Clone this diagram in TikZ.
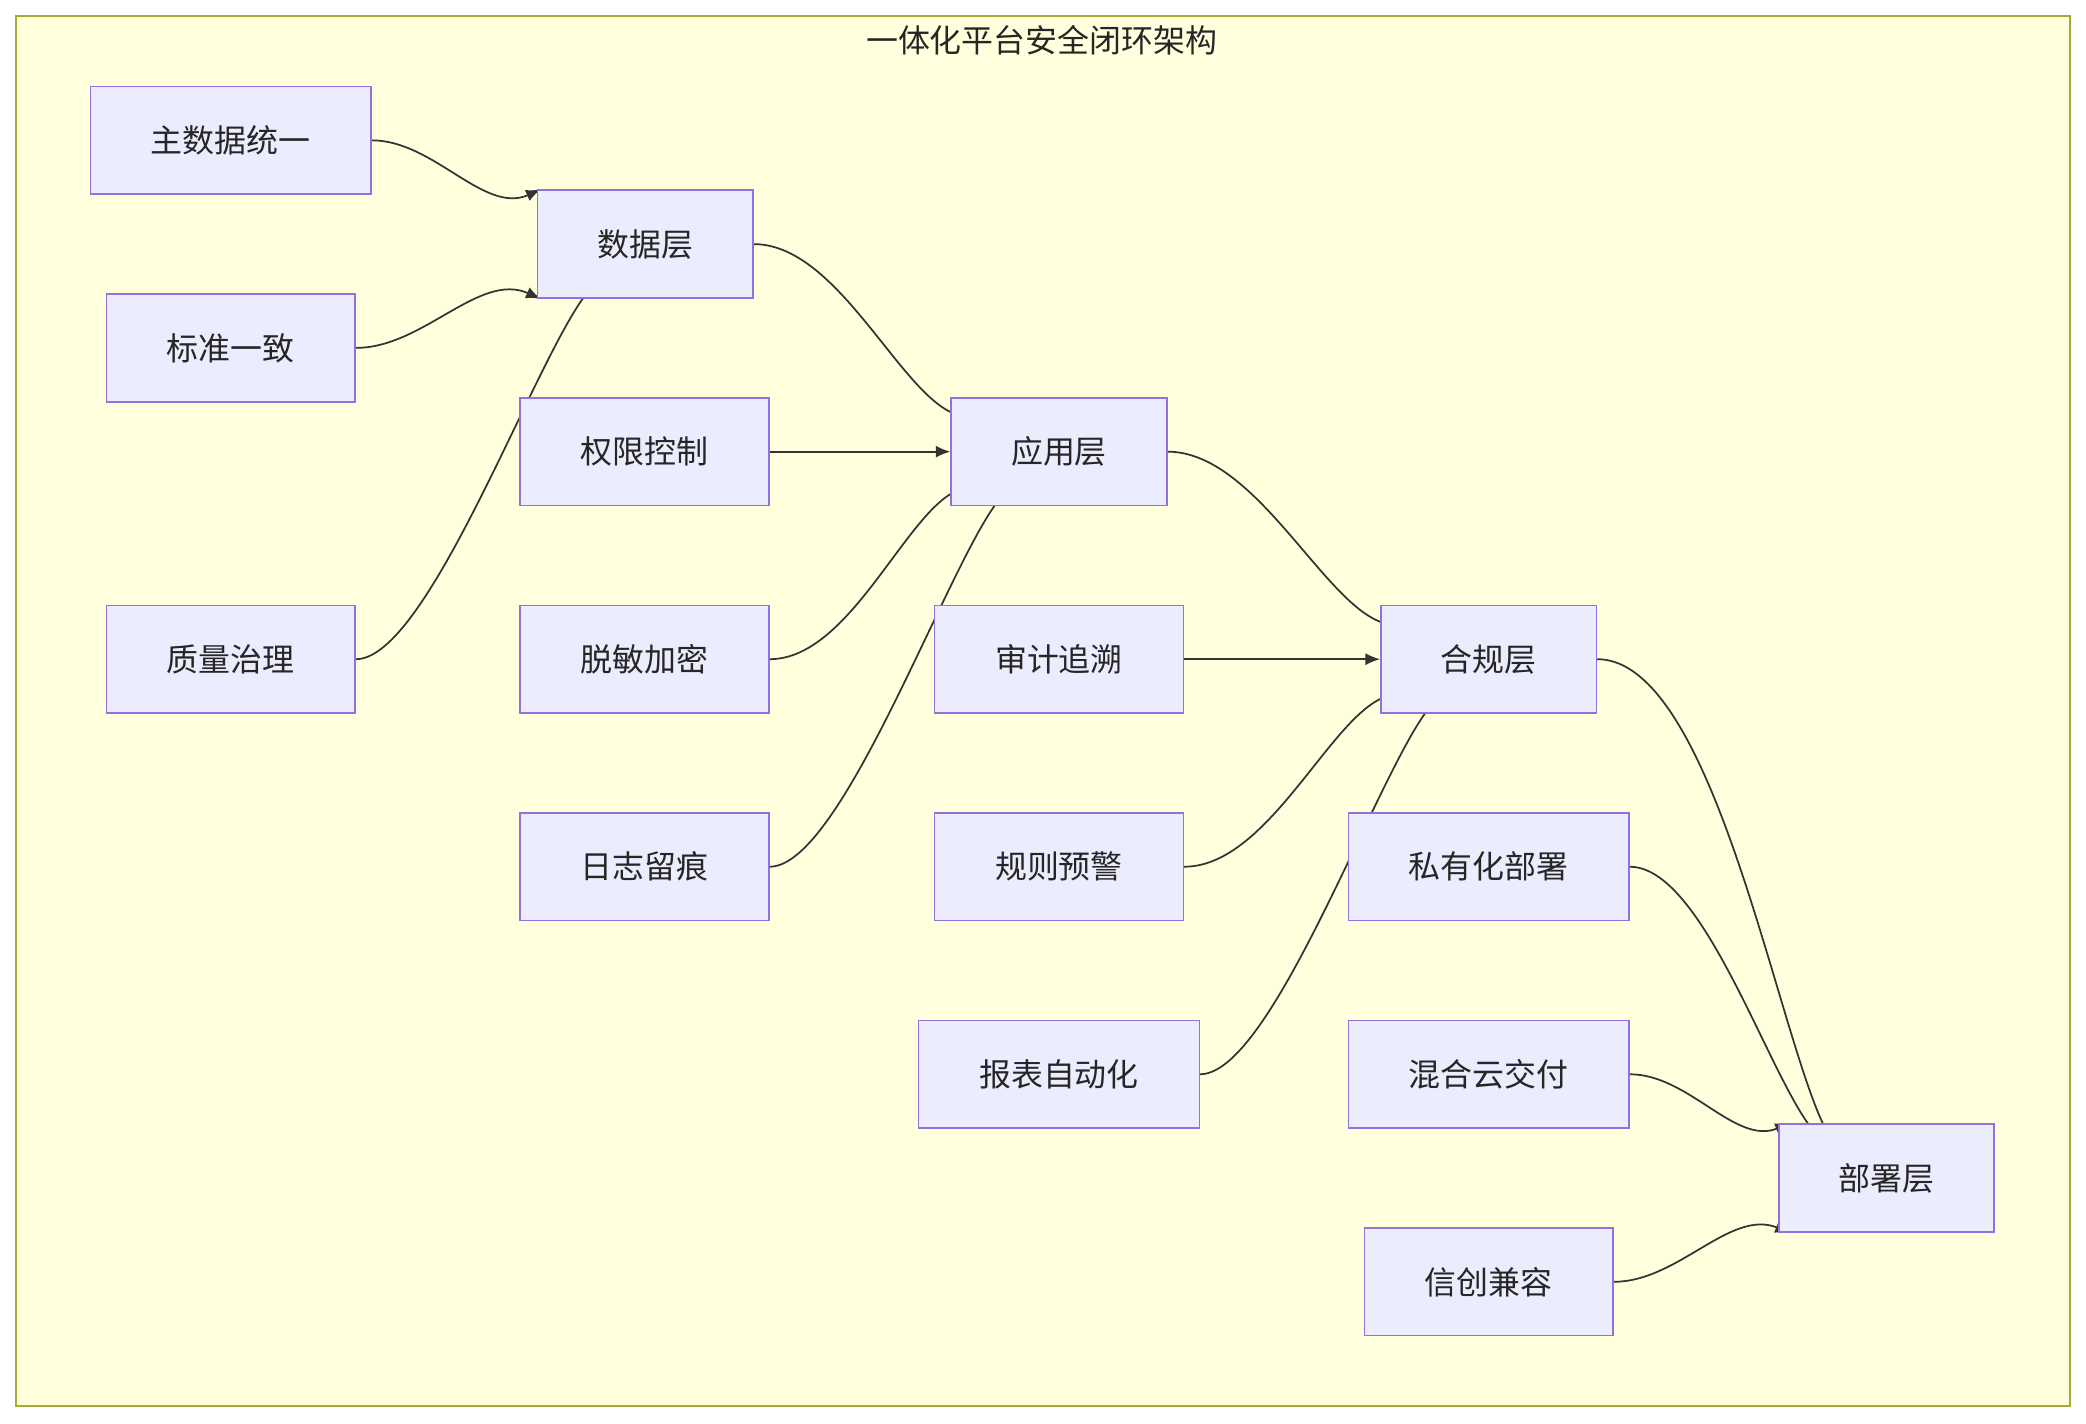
\documentclass[tikz,border=0pt]{standalone}
\usepackage{fontspec}
\newfontfamily\cjk{Noto Sans CJK SC}
\usetikzlibrary{arrows.meta,calc}
\pgfdeclarelayer{frame}
\pgfdeclarelayer{bg}
\pgfsetlayers{frame,bg,main}
\definecolor{nfill}{HTML}{ECECFF}
\definecolor{nstroke}{HTML}{9370DB}
\definecolor{cfill}{HTML}{FFFFDE}
\definecolor{cstroke}{HTML}{AAAA33}
\definecolor{edge}{HTML}{333333}
\begin{document}
\begin{tikzpicture}[x=1pt,y=-1pt,
  box/.style={draw=nstroke,fill=nfill,line width=1.2pt,inner sep=0pt,minimum height=81pt,
    font=\cjk\fontsize{24}{29}\selectfont,text=black!85},
  e/.style={draw=edge,line width=1.3pt,-{Latex[length=11pt,width=9pt]}}]
\useasboundingbox (0,0) rectangle (1568,1070);
\begin{pgfonlayer}{frame}
\draw[fill=cfill,draw=cstroke,line width=1.2pt] (12,12) rectangle (1556,1057);
\end{pgfonlayer}
\node[font=\cjk\fontsize{24}{29}\selectfont,text=black!85] (title) at (783,30) {一体化平台安全闭环架构};
\node[box,minimum width=211pt] (m) at (173.5,105.5) {主数据统一};
\node[box,minimum width=162pt] (d) at (485,183.5) {数据层};
\node[box,minimum width=187pt] (s) at (173.5,261.5) {标准一致};
\node[box,minimum width=187pt] (p) at (484.5,339.5) {权限控制};
\node[box,minimum width=162pt] (a) at (796,339.5) {应用层};
\node[box,minimum width=187pt] (q) at (173.5,495.5) {质量治理};
\node[box,minimum width=187pt] (k) at (484.5,495.5) {脱敏加密};
\node[box,minimum width=187pt] (au) at (796,495.5) {审计追溯};
\node[box,minimum width=162pt] (c) at (1119,495.5) {合规层};
\node[box,minimum width=187pt] (l) at (484.5,651.5) {日志留痕};
\node[box,minimum width=187pt] (r) at (796,651.5) {规则预警};
\node[box,minimum width=211pt] (pv) at (1119,651.5) {私有化部署};
\node[box,minimum width=211pt] (rp) at (796,807.5) {报表自动化};
\node[box,minimum width=211pt] (h) at (1119,807.5) {混合云交付};
\node[box,minimum width=162pt] (dp) at (1418,885.5) {部署层};
\node[box,minimum width=187pt] (x) at (1119,963.5) {信创兼容};
\begin{pgfonlayer}{bg}
\draw[e] (m.east) to[out=0,in=204,looseness=0.9] ([xshift=3pt]d.north west);
\draw[e] (s.east) to[out=0,in=156,looseness=0.9] ([xshift=3pt]d.south west);
\draw[e] (q.east) to[out=0,in=116,looseness=0.5] ([xshift=-20pt]d.south);
\draw[e] (d.east) to[out=0,in=222,looseness=0.9] ([xshift=38pt]a.north west);
\draw[e] (p.east) -- (a.west);
\draw[e] (k.east) to[out=0,in=138,looseness=0.9] ([xshift=38pt]a.south west);
\draw[e] (l.east) to[out=0,in=116,looseness=0.5] ([xshift=-22pt]a.south);
\draw[e] (a.east) to[out=0,in=222,looseness=0.9] ([xshift=38pt]c.north west);
\draw[e] (au.east) -- (c.west);
\draw[e] (r.east) to[out=0,in=138,looseness=0.9] ([xshift=38pt]c.south west);
\draw[e] (rp.east) to[out=0,in=117,looseness=0.5] ([xshift=-21pt]c.south);
\draw[e] (c.east) to[out=0,in=245,looseness=0.7] ([xshift=68pt]dp.north west);
\draw[e] (pv.east) to[out=0,in=237,looseness=0.7] ([xshift=56pt]dp.north west);
\draw[e] (h.east) to[out=0,in=202,looseness=0.9] ([xshift=9pt]dp.north west);
\draw[e] (x.east) to[out=0,in=158,looseness=0.9] ([xshift=9pt]dp.south west);
\end{pgfonlayer}
\end{tikzpicture}
\end{document}
